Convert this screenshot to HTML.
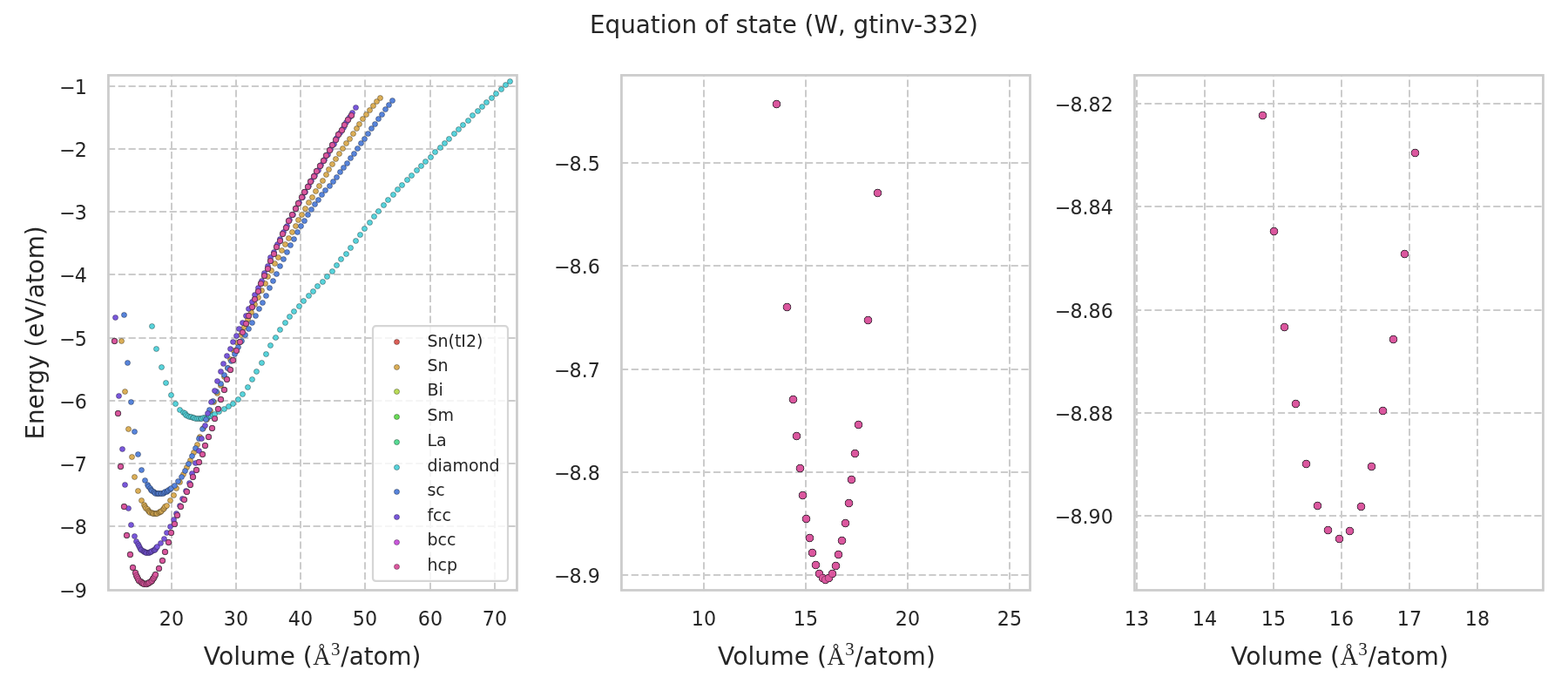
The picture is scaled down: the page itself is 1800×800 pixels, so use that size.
<!DOCTYPE html>
<html lang="en"><head><meta charset="utf-8"><title>Equation of state (W, gtinv-332)</title>
<style>html,body{margin:0;padding:0;background:#fff}svg{display:block}text{font-family:"DejaVu Sans","Liberation Sans",sans-serif;fill:#262626;stroke:none}.tk{font-size:22.22px}.lb{font-size:27.78px}.lg{font-size:19.00px}.m{font-family:"Liberation Serif","DejaVu Serif",serif}.g{stroke:#cccccc;stroke-width:2.00;stroke-dasharray:8.22 3.56;fill:none}.sp{stroke:#cccccc;stroke-width:2.78;fill:none;stroke-linejoin:miter}.m1{stroke:#000;stroke-width:0.33px}.m2{stroke:#000;stroke-width:0.33px}</style></head><body>
<svg width="1800" height="800" viewBox="0 0 1800 800">
<rect width="1800" height="800" fill="#fff"/>
<text class="lb" x="900" y="38" text-anchor="middle" style="font-size:27.78px">Equation of state (W, gtinv-332)</text>
<g id="ax1">
<path class="g" d="M197.0 676.95V86.40M271.0 676.95V86.40M345.0 676.95V86.40M419.0 676.95V86.40M494.0 676.95V86.40M568.0 676.95V86.40"/>
<path class="g" d="M123.95 99.0H593.45M123.95 171.0H593.45M123.95 243.0H593.45M123.95 315.0H593.45M123.95 388.0H593.45M123.95 460.0H593.45M123.95 532.0H593.45M123.95 604.0H593.45"/>
</g>
<g id="ax2">
<path class="g" d="M808.0 676.95V86.40M925.0 676.95V86.40M1042.0 676.95V86.40M1159.0 676.95V86.40"/>
<path class="g" d="M712.95 187.0H1182.50M712.95 305.0H1182.50M712.95 424.0H1182.50M712.95 542.0H1182.50M712.95 660.0H1182.50"/>
</g>
<g id="ax3">
<path class="g" d="M1305.0 676.95V86.40M1383.0 676.95V86.40M1462.0 676.95V86.40M1540.0 676.95V86.40M1618.0 676.95V86.40M1696.0 676.95V86.40"/>
<path class="g" d="M1301.95 119.0H1771.45M1301.95 237.0H1771.45M1301.95 356.0H1771.45M1301.95 474.0H1771.45M1301.95 592.0H1771.45"/>
</g>
<g id="data1" class="m1">
<g fill="#db5f57">
<circle cx="131.5" cy="391.5" r="3.05"/><circle cx="135.5" cy="474.5" r="3.05"/><circle cx="138.5" cy="535.5" r="3.05"/><circle cx="142.5" cy="581.5" r="3.05"/><circle cx="145.5" cy="614.5" r="3.05"/><circle cx="149.5" cy="636.5" r="3.05"/><circle cx="152.5" cy="651.5" r="3.05"/><circle cx="155.5" cy="657.5" r="3.05"/><circle cx="156.5" cy="660.5" r="3.05"/><circle cx="157.5" cy="662.5" r="3.05"/><circle cx="158.5" cy="664.5" r="3.05"/><circle cx="159.5" cy="666.5" r="3.05"/><circle cx="161.5" cy="667.5" r="3.05"/><circle cx="162.5" cy="668.5" r="3.05"/><circle cx="163.5" cy="669.5" r="3.05"/><circle cx="164.5" cy="669.5" r="3.05"/><circle cx="165.5" cy="670.5" r="3.05"/><circle cx="167.5" cy="670.5" r="3.05"/><circle cx="168.5" cy="670.5" r="3.05"/><circle cx="169.5" cy="669.5" r="3.05"/><circle cx="170.5" cy="669.5" r="3.05"/><circle cx="171.5" cy="668.5" r="3.05"/><circle cx="173.5" cy="667.5" r="3.05"/><circle cx="174.5" cy="666.5" r="3.05"/><circle cx="175.5" cy="664.5" r="3.05"/><circle cx="176.5" cy="663.5" r="3.05"/><circle cx="177.5" cy="661.5" r="3.05"/><circle cx="178.5" cy="659.5" r="3.05"/><circle cx="182.5" cy="652.5" r="3.05"/><circle cx="186.5" cy="643.5" r="3.05"/><circle cx="189.5" cy="633.5" r="3.05"/><circle cx="193.5" cy="622.5" r="3.05"/><circle cx="196.5" cy="611.5" r="3.05"/><circle cx="200.5" cy="601.5" r="3.05"/><circle cx="203.5" cy="591.5" r="3.05"/><circle cx="207.5" cy="581.5" r="3.05"/><circle cx="211.5" cy="573.5" r="3.05"/><circle cx="214.5" cy="564.5" r="3.05"/><circle cx="218.5" cy="556.5" r="3.05"/><circle cx="221.5" cy="547.5" r="3.05"/><circle cx="225.5" cy="539.5" r="3.05"/><circle cx="228.5" cy="530.5" r="3.05"/><circle cx="232.5" cy="521.5" r="3.05"/><circle cx="235.5" cy="511.5" r="3.05"/><circle cx="239.5" cy="501.5" r="3.05"/><circle cx="243.5" cy="491.5" r="3.05"/><circle cx="246.5" cy="480.5" r="3.05"/><circle cx="250.5" cy="469.5" r="3.05"/><circle cx="253.5" cy="458.5" r="3.05"/><circle cx="257.5" cy="447.5" r="3.05"/><circle cx="260.5" cy="435.5" r="3.05"/><circle cx="264.5" cy="424.5" r="3.05"/><circle cx="267.5" cy="413.5" r="3.05"/><circle cx="271.5" cy="402.5" r="3.05"/><circle cx="275.5" cy="392.5" r="3.05"/><circle cx="278.5" cy="381.5" r="3.05"/><circle cx="282.5" cy="371.5" r="3.05"/><circle cx="285.5" cy="362.5" r="3.05"/><circle cx="289.5" cy="352.5" r="3.05"/><circle cx="292.5" cy="343.5" r="3.05"/><circle cx="296.5" cy="334.5" r="3.05"/><circle cx="299.5" cy="325.5" r="3.05"/><circle cx="303.5" cy="316.5" r="3.05"/><circle cx="307.5" cy="308.5" r="3.05"/><circle cx="310.5" cy="299.5" r="3.05"/><circle cx="314.5" cy="291.5" r="3.05"/><circle cx="317.5" cy="283.5" r="3.05"/><circle cx="321.5" cy="276.5" r="3.05"/><circle cx="324.5" cy="268.5" r="3.05"/><circle cx="328.5" cy="261.5" r="3.05"/><circle cx="331.5" cy="253.5" r="3.05"/><circle cx="335.5" cy="246.5" r="3.05"/><circle cx="339.5" cy="239.5" r="3.05"/><circle cx="342.5" cy="233.5" r="3.05"/><circle cx="346.5" cy="226.5" r="3.05"/><circle cx="349.5" cy="220.5" r="3.05"/><circle cx="353.5" cy="214.5" r="3.05"/><circle cx="356.5" cy="208.5" r="3.05"/><circle cx="360.5" cy="202.5" r="3.05"/><circle cx="363.5" cy="196.5" r="3.05"/><circle cx="367.5" cy="190.5" r="3.05"/><circle cx="371.5" cy="184.5" r="3.05"/><circle cx="374.5" cy="178.5" r="3.05"/><circle cx="378.5" cy="172.5" r="3.05"/><circle cx="381.5" cy="166.5" r="3.05"/><circle cx="385.5" cy="160.5" r="3.05"/><circle cx="388.5" cy="154.5" r="3.05"/><circle cx="392.5" cy="149.5" r="3.05"/><circle cx="395.5" cy="143.5" r="3.05"/><circle cx="399.5" cy="137.5" r="3.05"/><circle cx="403.5" cy="132.5" r="3.05"/>
</g>
<g fill="#dbae57">
<circle cx="139.5" cy="391.5" r="3.05"/><circle cx="143.5" cy="449.5" r="3.05"/><circle cx="147.5" cy="492.5" r="3.05"/><circle cx="151.5" cy="524.5" r="3.05"/><circle cx="154.5" cy="547.5" r="3.05"/><circle cx="158.5" cy="563.5" r="3.05"/><circle cx="162.5" cy="574.5" r="3.05"/><circle cx="165.5" cy="579.5" r="3.05"/><circle cx="166.5" cy="581.5" r="3.05"/><circle cx="167.5" cy="583.5" r="3.05"/><circle cx="169.5" cy="584.5" r="3.05"/><circle cx="170.5" cy="586.5" r="3.05"/><circle cx="171.5" cy="587.5" r="3.05"/><circle cx="172.5" cy="588.5" r="3.05"/><circle cx="174.5" cy="588.5" r="3.05"/><circle cx="175.5" cy="589.5" r="3.05"/><circle cx="176.5" cy="589.5" r="3.05"/><circle cx="178.5" cy="589.5" r="3.05"/><circle cx="179.5" cy="589.5" r="3.05"/><circle cx="180.5" cy="589.5" r="3.05"/><circle cx="182.5" cy="588.5" r="3.05"/><circle cx="183.5" cy="587.5" r="3.05"/><circle cx="184.5" cy="587.5" r="3.05"/><circle cx="185.5" cy="586.5" r="3.05"/><circle cx="187.5" cy="584.5" r="3.05"/><circle cx="188.5" cy="583.5" r="3.05"/><circle cx="189.5" cy="581.5" r="3.05"/><circle cx="191.5" cy="580.5" r="3.05"/><circle cx="195.5" cy="574.5" r="3.05"/><circle cx="199.5" cy="568.5" r="3.05"/><circle cx="202.5" cy="560.5" r="3.05"/><circle cx="206.5" cy="553.5" r="3.05"/><circle cx="210.5" cy="544.5" r="3.05"/><circle cx="214.5" cy="536.5" r="3.05"/><circle cx="218.5" cy="528.5" r="3.05"/><circle cx="222.5" cy="519.5" r="3.05"/><circle cx="226.5" cy="510.5" r="3.05"/><circle cx="229.5" cy="501.5" r="3.05"/><circle cx="233.5" cy="491.5" r="3.05"/><circle cx="237.5" cy="481.5" r="3.05"/><circle cx="241.5" cy="471.5" r="3.05"/><circle cx="245.5" cy="461.5" r="3.05"/><circle cx="249.5" cy="451.5" r="3.05"/><circle cx="253.5" cy="442.5" r="3.05"/><circle cx="257.5" cy="432.5" r="3.05"/><circle cx="261.5" cy="422.5" r="3.05"/><circle cx="264.5" cy="412.5" r="3.05"/><circle cx="268.5" cy="402.5" r="3.05"/><circle cx="272.5" cy="393.5" r="3.05"/><circle cx="276.5" cy="384.5" r="3.05"/><circle cx="280.5" cy="375.5" r="3.05"/><circle cx="284.5" cy="366.5" r="3.05"/><circle cx="288.5" cy="358.5" r="3.05"/><circle cx="292.5" cy="349.5" r="3.05"/><circle cx="296.5" cy="341.5" r="3.05"/><circle cx="300.5" cy="333.5" r="3.05"/><circle cx="304.5" cy="325.5" r="3.05"/><circle cx="307.5" cy="317.5" r="3.05"/><circle cx="311.5" cy="310.5" r="3.05"/><circle cx="315.5" cy="302.5" r="3.05"/><circle cx="319.5" cy="295.5" r="3.05"/><circle cx="323.5" cy="287.5" r="3.05"/><circle cx="327.5" cy="280.5" r="3.05"/><circle cx="331.5" cy="273.5" r="3.05"/><circle cx="335.5" cy="266.5" r="3.05"/><circle cx="339.5" cy="259.5" r="3.05"/><circle cx="342.5" cy="252.5" r="3.05"/><circle cx="346.5" cy="246.5" r="3.05"/><circle cx="350.5" cy="239.5" r="3.05"/><circle cx="354.5" cy="232.5" r="3.05"/><circle cx="358.5" cy="226.5" r="3.05"/><circle cx="362.5" cy="219.5" r="3.05"/><circle cx="366.5" cy="213.5" r="3.05"/><circle cx="370.5" cy="207.5" r="3.05"/><circle cx="374.5" cy="200.5" r="3.05"/><circle cx="377.5" cy="194.5" r="3.05"/><circle cx="381.5" cy="188.5" r="3.05"/><circle cx="385.5" cy="182.5" r="3.05"/><circle cx="389.5" cy="176.5" r="3.05"/><circle cx="393.5" cy="170.5" r="3.05"/><circle cx="397.5" cy="164.5" r="3.05"/><circle cx="401.5" cy="159.5" r="3.05"/><circle cx="405.5" cy="153.5" r="3.05"/><circle cx="409.5" cy="147.5" r="3.05"/><circle cx="412.5" cy="142.5" r="3.05"/><circle cx="416.5" cy="136.5" r="3.05"/><circle cx="420.5" cy="131.5" r="3.05"/><circle cx="424.5" cy="126.5" r="3.05"/><circle cx="428.5" cy="121.5" r="3.05"/><circle cx="432.5" cy="116.5" r="3.05"/><circle cx="436.5" cy="112.5" r="3.05"/>
</g>
<g fill="#b9db57">
<circle cx="131.5" cy="391.5" r="3.05"/><circle cx="135.5" cy="474.5" r="3.05"/><circle cx="138.5" cy="535.5" r="3.05"/><circle cx="142.5" cy="581.5" r="3.05"/><circle cx="145.5" cy="614.5" r="3.05"/><circle cx="149.5" cy="636.5" r="3.05"/><circle cx="152.5" cy="651.5" r="3.05"/><circle cx="155.5" cy="657.5" r="3.05"/><circle cx="156.5" cy="660.5" r="3.05"/><circle cx="157.5" cy="662.5" r="3.05"/><circle cx="158.5" cy="664.5" r="3.05"/><circle cx="159.5" cy="666.5" r="3.05"/><circle cx="161.5" cy="667.5" r="3.05"/><circle cx="162.5" cy="668.5" r="3.05"/><circle cx="163.5" cy="669.5" r="3.05"/><circle cx="164.5" cy="669.5" r="3.05"/><circle cx="165.5" cy="670.5" r="3.05"/><circle cx="167.5" cy="670.5" r="3.05"/><circle cx="168.5" cy="670.5" r="3.05"/><circle cx="169.5" cy="669.5" r="3.05"/><circle cx="170.5" cy="669.5" r="3.05"/><circle cx="171.5" cy="668.5" r="3.05"/><circle cx="173.5" cy="667.5" r="3.05"/><circle cx="174.5" cy="666.5" r="3.05"/><circle cx="175.5" cy="664.5" r="3.05"/><circle cx="176.5" cy="663.5" r="3.05"/><circle cx="177.5" cy="661.5" r="3.05"/><circle cx="178.5" cy="659.5" r="3.05"/><circle cx="182.5" cy="652.5" r="3.05"/><circle cx="186.5" cy="643.5" r="3.05"/><circle cx="189.5" cy="633.5" r="3.05"/><circle cx="193.5" cy="622.5" r="3.05"/><circle cx="196.5" cy="611.5" r="3.05"/><circle cx="200.5" cy="601.5" r="3.05"/><circle cx="203.5" cy="591.5" r="3.05"/><circle cx="207.5" cy="581.5" r="3.05"/><circle cx="211.5" cy="573.5" r="3.05"/><circle cx="214.5" cy="564.5" r="3.05"/><circle cx="218.5" cy="556.5" r="3.05"/><circle cx="221.5" cy="547.5" r="3.05"/><circle cx="225.5" cy="539.5" r="3.05"/><circle cx="228.5" cy="530.5" r="3.05"/><circle cx="232.5" cy="521.5" r="3.05"/><circle cx="235.5" cy="511.5" r="3.05"/><circle cx="239.5" cy="501.5" r="3.05"/><circle cx="243.5" cy="491.5" r="3.05"/><circle cx="246.5" cy="480.5" r="3.05"/><circle cx="250.5" cy="469.5" r="3.05"/><circle cx="253.5" cy="458.5" r="3.05"/><circle cx="257.5" cy="447.5" r="3.05"/><circle cx="260.5" cy="435.5" r="3.05"/><circle cx="264.5" cy="424.5" r="3.05"/><circle cx="267.5" cy="413.5" r="3.05"/><circle cx="271.5" cy="402.5" r="3.05"/><circle cx="275.5" cy="392.5" r="3.05"/><circle cx="278.5" cy="381.5" r="3.05"/><circle cx="282.5" cy="371.5" r="3.05"/><circle cx="285.5" cy="362.5" r="3.05"/><circle cx="289.5" cy="352.5" r="3.05"/><circle cx="292.5" cy="343.5" r="3.05"/><circle cx="296.5" cy="334.5" r="3.05"/><circle cx="299.5" cy="325.5" r="3.05"/><circle cx="303.5" cy="316.5" r="3.05"/><circle cx="307.5" cy="308.5" r="3.05"/><circle cx="310.5" cy="299.5" r="3.05"/><circle cx="314.5" cy="291.5" r="3.05"/><circle cx="317.5" cy="283.5" r="3.05"/><circle cx="321.5" cy="276.5" r="3.05"/><circle cx="324.5" cy="268.5" r="3.05"/><circle cx="328.5" cy="261.5" r="3.05"/><circle cx="331.5" cy="253.5" r="3.05"/><circle cx="335.5" cy="246.5" r="3.05"/><circle cx="339.5" cy="239.5" r="3.05"/><circle cx="342.5" cy="233.5" r="3.05"/><circle cx="346.5" cy="226.5" r="3.05"/><circle cx="349.5" cy="220.5" r="3.05"/><circle cx="353.5" cy="214.5" r="3.05"/><circle cx="356.5" cy="208.5" r="3.05"/><circle cx="360.5" cy="202.5" r="3.05"/><circle cx="363.5" cy="196.5" r="3.05"/><circle cx="367.5" cy="190.5" r="3.05"/><circle cx="371.5" cy="184.5" r="3.05"/><circle cx="374.5" cy="178.5" r="3.05"/><circle cx="378.5" cy="172.5" r="3.05"/><circle cx="381.5" cy="166.5" r="3.05"/><circle cx="385.5" cy="160.5" r="3.05"/><circle cx="388.5" cy="154.5" r="3.05"/><circle cx="392.5" cy="149.5" r="3.05"/><circle cx="395.5" cy="143.5" r="3.05"/><circle cx="399.5" cy="137.5" r="3.05"/><circle cx="403.5" cy="132.5" r="3.05"/>
</g>
<g fill="#69db57">
<circle cx="131.5" cy="391.5" r="3.05"/><circle cx="135.5" cy="474.5" r="3.05"/><circle cx="138.5" cy="535.5" r="3.05"/><circle cx="142.5" cy="581.5" r="3.05"/><circle cx="145.5" cy="614.5" r="3.05"/><circle cx="149.5" cy="636.5" r="3.05"/><circle cx="152.5" cy="651.5" r="3.05"/><circle cx="155.5" cy="657.5" r="3.05"/><circle cx="156.5" cy="660.5" r="3.05"/><circle cx="157.5" cy="662.5" r="3.05"/><circle cx="158.5" cy="664.5" r="3.05"/><circle cx="159.5" cy="666.5" r="3.05"/><circle cx="161.5" cy="667.5" r="3.05"/><circle cx="162.5" cy="668.5" r="3.05"/><circle cx="163.5" cy="669.5" r="3.05"/><circle cx="164.5" cy="669.5" r="3.05"/><circle cx="165.5" cy="670.5" r="3.05"/><circle cx="167.5" cy="670.5" r="3.05"/><circle cx="168.5" cy="670.5" r="3.05"/><circle cx="169.5" cy="669.5" r="3.05"/><circle cx="170.5" cy="669.5" r="3.05"/><circle cx="171.5" cy="668.5" r="3.05"/><circle cx="173.5" cy="667.5" r="3.05"/><circle cx="174.5" cy="666.5" r="3.05"/><circle cx="175.5" cy="664.5" r="3.05"/><circle cx="176.5" cy="663.5" r="3.05"/><circle cx="177.5" cy="661.5" r="3.05"/><circle cx="178.5" cy="659.5" r="3.05"/><circle cx="182.5" cy="652.5" r="3.05"/><circle cx="186.5" cy="643.5" r="3.05"/><circle cx="189.5" cy="633.5" r="3.05"/><circle cx="193.5" cy="622.5" r="3.05"/><circle cx="196.5" cy="611.5" r="3.05"/><circle cx="200.5" cy="601.5" r="3.05"/><circle cx="203.5" cy="591.5" r="3.05"/><circle cx="207.5" cy="581.5" r="3.05"/><circle cx="211.5" cy="573.5" r="3.05"/><circle cx="214.5" cy="564.5" r="3.05"/><circle cx="218.5" cy="556.5" r="3.05"/><circle cx="221.5" cy="547.5" r="3.05"/><circle cx="225.5" cy="539.5" r="3.05"/><circle cx="228.5" cy="530.5" r="3.05"/><circle cx="232.5" cy="521.5" r="3.05"/><circle cx="235.5" cy="511.5" r="3.05"/><circle cx="239.5" cy="501.5" r="3.05"/><circle cx="243.5" cy="491.5" r="3.05"/><circle cx="246.5" cy="480.5" r="3.05"/><circle cx="250.5" cy="469.5" r="3.05"/><circle cx="253.5" cy="458.5" r="3.05"/><circle cx="257.5" cy="447.5" r="3.05"/><circle cx="260.5" cy="435.5" r="3.05"/><circle cx="264.5" cy="424.5" r="3.05"/><circle cx="267.5" cy="413.5" r="3.05"/><circle cx="271.5" cy="402.5" r="3.05"/><circle cx="275.5" cy="392.5" r="3.05"/><circle cx="278.5" cy="381.5" r="3.05"/><circle cx="282.5" cy="371.5" r="3.05"/><circle cx="285.5" cy="362.5" r="3.05"/><circle cx="289.5" cy="352.5" r="3.05"/><circle cx="292.5" cy="343.5" r="3.05"/><circle cx="296.5" cy="334.5" r="3.05"/><circle cx="299.5" cy="325.5" r="3.05"/><circle cx="303.5" cy="316.5" r="3.05"/><circle cx="307.5" cy="308.5" r="3.05"/><circle cx="310.5" cy="299.5" r="3.05"/><circle cx="314.5" cy="291.5" r="3.05"/><circle cx="317.5" cy="283.5" r="3.05"/><circle cx="321.5" cy="276.5" r="3.05"/><circle cx="324.5" cy="268.5" r="3.05"/><circle cx="328.5" cy="261.5" r="3.05"/><circle cx="331.5" cy="253.5" r="3.05"/><circle cx="335.5" cy="246.5" r="3.05"/><circle cx="339.5" cy="239.5" r="3.05"/><circle cx="342.5" cy="233.5" r="3.05"/><circle cx="346.5" cy="226.5" r="3.05"/><circle cx="349.5" cy="220.5" r="3.05"/><circle cx="353.5" cy="214.5" r="3.05"/><circle cx="356.5" cy="208.5" r="3.05"/><circle cx="360.5" cy="202.5" r="3.05"/><circle cx="363.5" cy="196.5" r="3.05"/><circle cx="367.5" cy="190.5" r="3.05"/><circle cx="371.5" cy="184.5" r="3.05"/><circle cx="374.5" cy="178.5" r="3.05"/><circle cx="378.5" cy="172.5" r="3.05"/><circle cx="381.5" cy="166.5" r="3.05"/><circle cx="385.5" cy="160.5" r="3.05"/><circle cx="388.5" cy="154.5" r="3.05"/><circle cx="392.5" cy="149.5" r="3.05"/><circle cx="395.5" cy="143.5" r="3.05"/><circle cx="399.5" cy="137.5" r="3.05"/><circle cx="403.5" cy="132.5" r="3.05"/>
</g>
<g fill="#57db94">
<circle cx="131.5" cy="391.5" r="3.05"/><circle cx="135.5" cy="474.5" r="3.05"/><circle cx="138.5" cy="535.5" r="3.05"/><circle cx="142.5" cy="581.5" r="3.05"/><circle cx="145.5" cy="614.5" r="3.05"/><circle cx="149.5" cy="636.5" r="3.05"/><circle cx="152.5" cy="651.5" r="3.05"/><circle cx="155.5" cy="657.5" r="3.05"/><circle cx="156.5" cy="660.5" r="3.05"/><circle cx="157.5" cy="662.5" r="3.05"/><circle cx="158.5" cy="664.5" r="3.05"/><circle cx="159.5" cy="666.5" r="3.05"/><circle cx="161.5" cy="667.5" r="3.05"/><circle cx="162.5" cy="668.5" r="3.05"/><circle cx="163.5" cy="669.5" r="3.05"/><circle cx="164.5" cy="669.5" r="3.05"/><circle cx="165.5" cy="670.5" r="3.05"/><circle cx="167.5" cy="670.5" r="3.05"/><circle cx="168.5" cy="670.5" r="3.05"/><circle cx="169.5" cy="669.5" r="3.05"/><circle cx="170.5" cy="669.5" r="3.05"/><circle cx="171.5" cy="668.5" r="3.05"/><circle cx="173.5" cy="667.5" r="3.05"/><circle cx="174.5" cy="666.5" r="3.05"/><circle cx="175.5" cy="664.5" r="3.05"/><circle cx="176.5" cy="663.5" r="3.05"/><circle cx="177.5" cy="661.5" r="3.05"/><circle cx="178.5" cy="659.5" r="3.05"/><circle cx="182.5" cy="652.5" r="3.05"/><circle cx="186.5" cy="643.5" r="3.05"/><circle cx="189.5" cy="633.5" r="3.05"/><circle cx="193.5" cy="622.5" r="3.05"/><circle cx="196.5" cy="611.5" r="3.05"/><circle cx="200.5" cy="601.5" r="3.05"/><circle cx="203.5" cy="591.5" r="3.05"/><circle cx="207.5" cy="581.5" r="3.05"/><circle cx="211.5" cy="573.5" r="3.05"/><circle cx="214.5" cy="564.5" r="3.05"/><circle cx="218.5" cy="556.5" r="3.05"/><circle cx="221.5" cy="547.5" r="3.05"/><circle cx="225.5" cy="539.5" r="3.05"/><circle cx="228.5" cy="530.5" r="3.05"/><circle cx="232.5" cy="521.5" r="3.05"/><circle cx="235.5" cy="511.5" r="3.05"/><circle cx="239.5" cy="501.5" r="3.05"/><circle cx="243.5" cy="491.5" r="3.05"/><circle cx="246.5" cy="480.5" r="3.05"/><circle cx="250.5" cy="469.5" r="3.05"/><circle cx="253.5" cy="458.5" r="3.05"/><circle cx="257.5" cy="447.5" r="3.05"/><circle cx="260.5" cy="435.5" r="3.05"/><circle cx="264.5" cy="424.5" r="3.05"/><circle cx="267.5" cy="413.5" r="3.05"/><circle cx="271.5" cy="402.5" r="3.05"/><circle cx="275.5" cy="392.5" r="3.05"/><circle cx="278.5" cy="381.5" r="3.05"/><circle cx="282.5" cy="371.5" r="3.05"/><circle cx="285.5" cy="362.5" r="3.05"/><circle cx="289.5" cy="352.5" r="3.05"/><circle cx="292.5" cy="343.5" r="3.05"/><circle cx="296.5" cy="334.5" r="3.05"/><circle cx="299.5" cy="325.5" r="3.05"/><circle cx="303.5" cy="316.5" r="3.05"/><circle cx="307.5" cy="308.5" r="3.05"/><circle cx="310.5" cy="299.5" r="3.05"/><circle cx="314.5" cy="291.5" r="3.05"/><circle cx="317.5" cy="283.5" r="3.05"/><circle cx="321.5" cy="276.5" r="3.05"/><circle cx="324.5" cy="268.5" r="3.05"/><circle cx="328.5" cy="261.5" r="3.05"/><circle cx="331.5" cy="253.5" r="3.05"/><circle cx="335.5" cy="246.5" r="3.05"/><circle cx="339.5" cy="239.5" r="3.05"/><circle cx="342.5" cy="233.5" r="3.05"/><circle cx="346.5" cy="226.5" r="3.05"/><circle cx="349.5" cy="220.5" r="3.05"/><circle cx="353.5" cy="214.5" r="3.05"/><circle cx="356.5" cy="208.5" r="3.05"/><circle cx="360.5" cy="202.5" r="3.05"/><circle cx="363.5" cy="196.5" r="3.05"/><circle cx="367.5" cy="190.5" r="3.05"/><circle cx="371.5" cy="184.5" r="3.05"/><circle cx="374.5" cy="178.5" r="3.05"/><circle cx="378.5" cy="172.5" r="3.05"/><circle cx="381.5" cy="166.5" r="3.05"/><circle cx="385.5" cy="160.5" r="3.05"/><circle cx="388.5" cy="154.5" r="3.05"/><circle cx="392.5" cy="149.5" r="3.05"/><circle cx="395.5" cy="143.5" r="3.05"/><circle cx="399.5" cy="137.5" r="3.05"/><circle cx="403.5" cy="132.5" r="3.05"/>
</g>
<g fill="#57d3db">
<circle cx="174.5" cy="374.5" r="3.05"/><circle cx="179.5" cy="400.5" r="3.05"/><circle cx="185.5" cy="421.5" r="3.05"/><circle cx="190.5" cy="439.5" r="3.05"/><circle cx="196.5" cy="453.5" r="3.05"/><circle cx="201.5" cy="463.5" r="3.05"/><circle cx="206.5" cy="470.5" r="3.05"/><circle cx="210.5" cy="473.5" r="3.05"/><circle cx="212.5" cy="474.5" r="3.05"/><circle cx="213.5" cy="476.5" r="3.05"/><circle cx="215.5" cy="477.5" r="3.05"/><circle cx="217.5" cy="478.5" r="3.05"/><circle cx="219.5" cy="478.5" r="3.05"/><circle cx="221.5" cy="479.5" r="3.05"/><circle cx="222.5" cy="479.5" r="3.05"/><circle cx="224.5" cy="480.5" r="3.05"/><circle cx="226.5" cy="480.5" r="3.05"/><circle cx="228.5" cy="480.5" r="3.05"/><circle cx="230.5" cy="480.5" r="3.05"/><circle cx="231.5" cy="480.5" r="3.05"/><circle cx="233.5" cy="479.5" r="3.05"/><circle cx="235.5" cy="479.5" r="3.05"/><circle cx="237.5" cy="479.5" r="3.05"/><circle cx="239.5" cy="478.5" r="3.05"/><circle cx="240.5" cy="477.5" r="3.05"/><circle cx="242.5" cy="477.5" r="3.05"/><circle cx="244.5" cy="476.5" r="3.05"/><circle cx="246.5" cy="475.5" r="3.05"/><circle cx="251.5" cy="472.5" r="3.05"/><circle cx="257.5" cy="469.5" r="3.05"/><circle cx="262.5" cy="466.5" r="3.05"/><circle cx="267.5" cy="463.5" r="3.05"/><circle cx="273.5" cy="458.5" r="3.05"/><circle cx="278.5" cy="452.5" r="3.05"/><circle cx="284.5" cy="444.5" r="3.05"/><circle cx="289.5" cy="435.5" r="3.05"/><circle cx="294.5" cy="426.5" r="3.05"/><circle cx="300.5" cy="416.5" r="3.05"/><circle cx="305.5" cy="406.5" r="3.05"/><circle cx="310.5" cy="396.5" r="3.05"/><circle cx="316.5" cy="387.5" r="3.05"/><circle cx="321.5" cy="378.5" r="3.05"/><circle cx="327.5" cy="370.5" r="3.05"/><circle cx="332.5" cy="363.5" r="3.05"/><circle cx="337.5" cy="357.5" r="3.05"/><circle cx="343.5" cy="351.5" r="3.05"/><circle cx="348.5" cy="345.5" r="3.05"/><circle cx="354.5" cy="339.5" r="3.05"/><circle cx="359.5" cy="334.5" r="3.05"/><circle cx="364.5" cy="328.5" r="3.05"/><circle cx="370.5" cy="323.5" r="3.05"/><circle cx="375.5" cy="317.5" r="3.05"/><circle cx="381.5" cy="311.5" r="3.05"/><circle cx="386.5" cy="304.5" r="3.05"/><circle cx="391.5" cy="297.5" r="3.05"/><circle cx="397.5" cy="291.5" r="3.05"/><circle cx="402.5" cy="284.5" r="3.05"/><circle cx="408.5" cy="276.5" r="3.05"/><circle cx="413.5" cy="269.5" r="3.05"/><circle cx="418.5" cy="262.5" r="3.05"/><circle cx="424.5" cy="255.5" r="3.05"/><circle cx="429.5" cy="248.5" r="3.05"/><circle cx="434.5" cy="242.5" r="3.05"/><circle cx="440.5" cy="235.5" r="3.05"/><circle cx="445.5" cy="229.5" r="3.05"/><circle cx="451.5" cy="223.5" r="3.05"/><circle cx="456.5" cy="217.5" r="3.05"/><circle cx="461.5" cy="212.5" r="3.05"/><circle cx="467.5" cy="206.5" r="3.05"/><circle cx="472.5" cy="201.5" r="3.05"/><circle cx="478.5" cy="195.5" r="3.05"/><circle cx="483.5" cy="190.5" r="3.05"/><circle cx="488.5" cy="185.5" r="3.05"/><circle cx="494.5" cy="180.5" r="3.05"/><circle cx="499.5" cy="174.5" r="3.05"/><circle cx="505.5" cy="169.5" r="3.05"/><circle cx="510.5" cy="164.5" r="3.05"/><circle cx="515.5" cy="159.5" r="3.05"/><circle cx="521.5" cy="153.5" r="3.05"/><circle cx="526.5" cy="148.5" r="3.05"/><circle cx="531.5" cy="143.5" r="3.05"/><circle cx="537.5" cy="138.5" r="3.05"/><circle cx="542.5" cy="132.5" r="3.05"/><circle cx="548.5" cy="127.5" r="3.05"/><circle cx="553.5" cy="122.5" r="3.05"/><circle cx="558.5" cy="117.5" r="3.05"/><circle cx="564.5" cy="112.5" r="3.05"/><circle cx="569.5" cy="107.5" r="3.05"/><circle cx="575.5" cy="102.5" r="3.05"/><circle cx="580.5" cy="97.5" r="3.05"/><circle cx="585.5" cy="93.5" r="3.05"/>
</g>
<g fill="#5784db">
<circle cx="142.5" cy="361.5" r="3.05"/><circle cx="146.5" cy="416.5" r="3.05"/><circle cx="150.5" cy="461.5" r="3.05"/><circle cx="154.5" cy="495.5" r="3.05"/><circle cx="158.5" cy="521.5" r="3.05"/><circle cx="162.5" cy="539.5" r="3.05"/><circle cx="166.5" cy="551.5" r="3.05"/><circle cx="169.5" cy="556.5" r="3.05"/><circle cx="170.5" cy="558.5" r="3.05"/><circle cx="172.5" cy="560.5" r="3.05"/><circle cx="173.5" cy="562.5" r="3.05"/><circle cx="174.5" cy="563.5" r="3.05"/><circle cx="176.5" cy="564.5" r="3.05"/><circle cx="177.5" cy="565.5" r="3.05"/><circle cx="178.5" cy="566.5" r="3.05"/><circle cx="180.5" cy="566.5" r="3.05"/><circle cx="181.5" cy="566.5" r="3.05"/><circle cx="182.5" cy="566.5" r="3.05"/><circle cx="184.5" cy="566.5" r="3.05"/><circle cx="185.5" cy="566.5" r="3.05"/><circle cx="187.5" cy="566.5" r="3.05"/><circle cx="188.5" cy="565.5" r="3.05"/><circle cx="189.5" cy="564.5" r="3.05"/><circle cx="191.5" cy="564.5" r="3.05"/><circle cx="192.5" cy="563.5" r="3.05"/><circle cx="193.5" cy="562.5" r="3.05"/><circle cx="195.5" cy="561.5" r="3.05"/><circle cx="196.5" cy="560.5" r="3.05"/><circle cx="200.5" cy="557.5" r="3.05"/><circle cx="204.5" cy="552.5" r="3.05"/><circle cx="208.5" cy="547.5" r="3.05"/><circle cx="212.5" cy="540.5" r="3.05"/><circle cx="216.5" cy="532.5" r="3.05"/><circle cx="220.5" cy="523.5" r="3.05"/><circle cx="224.5" cy="514.5" r="3.05"/><circle cx="228.5" cy="503.5" r="3.05"/><circle cx="232.5" cy="492.5" r="3.05"/><circle cx="236.5" cy="481.5" r="3.05"/><circle cx="240.5" cy="470.5" r="3.05"/><circle cx="244.5" cy="460.5" r="3.05"/><circle cx="248.5" cy="449.5" r="3.05"/><circle cx="253.5" cy="440.5" r="3.05"/><circle cx="257.5" cy="430.5" r="3.05"/><circle cx="261.5" cy="422.5" r="3.05"/><circle cx="265.5" cy="414.5" r="3.05"/><circle cx="269.5" cy="406.5" r="3.05"/><circle cx="273.5" cy="398.5" r="3.05"/><circle cx="277.5" cy="391.5" r="3.05"/><circle cx="281.5" cy="384.5" r="3.05"/><circle cx="285.5" cy="377.5" r="3.05"/><circle cx="289.5" cy="370.5" r="3.05"/><circle cx="293.5" cy="362.5" r="3.05"/><circle cx="297.5" cy="354.5" r="3.05"/><circle cx="301.5" cy="347.5" r="3.05"/><circle cx="305.5" cy="339.5" r="3.05"/><circle cx="309.5" cy="330.5" r="3.05"/><circle cx="313.5" cy="322.5" r="3.05"/><circle cx="317.5" cy="314.5" r="3.05"/><circle cx="321.5" cy="305.5" r="3.05"/><circle cx="325.5" cy="297.5" r="3.05"/><circle cx="329.5" cy="289.5" r="3.05"/><circle cx="333.5" cy="281.5" r="3.05"/><circle cx="337.5" cy="274.5" r="3.05"/><circle cx="341.5" cy="266.5" r="3.05"/><circle cx="345.5" cy="259.5" r="3.05"/><circle cx="349.5" cy="253.5" r="3.05"/><circle cx="353.5" cy="246.5" r="3.05"/><circle cx="357.5" cy="240.5" r="3.05"/><circle cx="361.5" cy="234.5" r="3.05"/><circle cx="365.5" cy="229.5" r="3.05"/><circle cx="369.5" cy="223.5" r="3.05"/><circle cx="373.5" cy="218.5" r="3.05"/><circle cx="378.5" cy="213.5" r="3.05"/><circle cx="382.5" cy="208.5" r="3.05"/><circle cx="386.5" cy="203.5" r="3.05"/><circle cx="390.5" cy="197.5" r="3.05"/><circle cx="394.5" cy="192.5" r="3.05"/><circle cx="398.5" cy="187.5" r="3.05"/><circle cx="402.5" cy="181.5" r="3.05"/><circle cx="406.5" cy="176.5" r="3.05"/><circle cx="410.5" cy="170.5" r="3.05"/><circle cx="414.5" cy="164.5" r="3.05"/><circle cx="418.5" cy="159.5" r="3.05"/><circle cx="422.5" cy="153.5" r="3.05"/><circle cx="426.5" cy="147.5" r="3.05"/><circle cx="430.5" cy="142.5" r="3.05"/><circle cx="434.5" cy="136.5" r="3.05"/><circle cx="438.5" cy="131.5" r="3.05"/><circle cx="442.5" cy="125.5" r="3.05"/><circle cx="446.5" cy="120.5" r="3.05"/><circle cx="450.5" cy="115.5" r="3.05"/>
</g>
<g fill="#7957db">
<circle cx="132.5" cy="364.5" r="3.05"/><circle cx="136.5" cy="454.5" r="3.05"/><circle cx="140.5" cy="515.5" r="3.05"/><circle cx="143.5" cy="556.5" r="3.05"/><circle cx="147.5" cy="583.5" r="3.05"/><circle cx="150.5" cy="602.5" r="3.05"/><circle cx="154.5" cy="615.5" r="3.05"/><circle cx="156.5" cy="621.5" r="3.05"/><circle cx="158.5" cy="624.5" r="3.05"/><circle cx="159.5" cy="626.5" r="3.05"/><circle cx="160.5" cy="628.5" r="3.05"/><circle cx="161.5" cy="630.5" r="3.05"/><circle cx="162.5" cy="631.5" r="3.05"/><circle cx="164.5" cy="632.5" r="3.05"/><circle cx="165.5" cy="633.5" r="3.05"/><circle cx="166.5" cy="633.5" r="3.05"/><circle cx="167.5" cy="634.5" r="3.05"/><circle cx="168.5" cy="634.5" r="3.05"/><circle cx="170.5" cy="634.5" r="3.05"/><circle cx="171.5" cy="634.5" r="3.05"/><circle cx="172.5" cy="633.5" r="3.05"/><circle cx="173.5" cy="633.5" r="3.05"/><circle cx="174.5" cy="632.5" r="3.05"/><circle cx="176.5" cy="631.5" r="3.05"/><circle cx="177.5" cy="631.5" r="3.05"/><circle cx="178.5" cy="630.5" r="3.05"/><circle cx="179.5" cy="628.5" r="3.05"/><circle cx="180.5" cy="627.5" r="3.05"/><circle cx="184.5" cy="623.5" r="3.05"/><circle cx="188.5" cy="618.5" r="3.05"/><circle cx="191.5" cy="611.5" r="3.05"/><circle cx="195.5" cy="604.5" r="3.05"/><circle cx="199.5" cy="596.5" r="3.05"/><circle cx="202.5" cy="589.5" r="3.05"/><circle cx="206.5" cy="580.5" r="3.05"/><circle cx="209.5" cy="572.5" r="3.05"/><circle cx="213.5" cy="563.5" r="3.05"/><circle cx="217.5" cy="554.5" r="3.05"/><circle cx="220.5" cy="543.5" r="3.05"/><circle cx="224.5" cy="531.5" r="3.05"/><circle cx="228.5" cy="517.5" r="3.05"/><circle cx="231.5" cy="503.5" r="3.05"/><circle cx="235.5" cy="488.5" r="3.05"/><circle cx="238.5" cy="474.5" r="3.05"/><circle cx="242.5" cy="461.5" r="3.05"/><circle cx="246.5" cy="448.5" r="3.05"/><circle cx="249.5" cy="437.5" r="3.05"/><circle cx="253.5" cy="426.5" r="3.05"/><circle cx="256.5" cy="417.5" r="3.05"/><circle cx="260.5" cy="408.5" r="3.05"/><circle cx="264.5" cy="400.5" r="3.05"/><circle cx="267.5" cy="392.5" r="3.05"/><circle cx="271.5" cy="385.5" r="3.05"/><circle cx="274.5" cy="377.5" r="3.05"/><circle cx="278.5" cy="370.5" r="3.05"/><circle cx="282.5" cy="362.5" r="3.05"/><circle cx="285.5" cy="354.5" r="3.05"/><circle cx="289.5" cy="346.5" r="3.05"/><circle cx="292.5" cy="338.5" r="3.05"/><circle cx="296.5" cy="330.5" r="3.05"/><circle cx="300.5" cy="322.5" r="3.05"/><circle cx="303.5" cy="313.5" r="3.05"/><circle cx="307.5" cy="305.5" r="3.05"/><circle cx="310.5" cy="295.5" r="3.05"/><circle cx="314.5" cy="289.5" r="3.05"/><circle cx="318.5" cy="280.5" r="3.05"/><circle cx="321.5" cy="274.5" r="3.05"/><circle cx="325.5" cy="266.5" r="3.05"/><circle cx="329.5" cy="259.5" r="3.05"/><circle cx="332.5" cy="252.5" r="3.05"/><circle cx="336.5" cy="246.5" r="3.05"/><circle cx="339.5" cy="239.5" r="3.05"/><circle cx="343.5" cy="232.5" r="3.05"/><circle cx="347.5" cy="226.5" r="3.05"/><circle cx="350.5" cy="220.5" r="3.05"/><circle cx="354.5" cy="213.5" r="3.05"/><circle cx="357.5" cy="207.5" r="3.05"/><circle cx="361.5" cy="201.5" r="3.05"/><circle cx="365.5" cy="195.5" r="3.05"/><circle cx="368.5" cy="189.5" r="3.05"/><circle cx="372.5" cy="183.5" r="3.05"/><circle cx="376.5" cy="177.5" r="3.05"/><circle cx="379.5" cy="171.5" r="3.05"/><circle cx="383.5" cy="165.5" r="3.05"/><circle cx="386.5" cy="158.5" r="3.05"/><circle cx="390.5" cy="152.5" r="3.05"/><circle cx="394.5" cy="146.5" r="3.05"/><circle cx="397.5" cy="140.5" r="3.05"/><circle cx="401.5" cy="134.5" r="3.05"/><circle cx="404.5" cy="129.5" r="3.05"/><circle cx="408.5" cy="123.5" r="3.05"/>
</g>
<g fill="#c957db">
<circle cx="131.5" cy="391.5" r="3.05"/><circle cx="135.5" cy="474.5" r="3.05"/><circle cx="138.5" cy="535.5" r="3.05"/><circle cx="142.5" cy="581.5" r="3.05"/><circle cx="145.5" cy="614.5" r="3.05"/><circle cx="149.5" cy="636.5" r="3.05"/><circle cx="152.5" cy="651.5" r="3.05"/><circle cx="155.5" cy="657.5" r="3.05"/><circle cx="156.5" cy="660.5" r="3.05"/><circle cx="157.5" cy="662.5" r="3.05"/><circle cx="158.5" cy="664.5" r="3.05"/><circle cx="159.5" cy="666.5" r="3.05"/><circle cx="161.5" cy="667.5" r="3.05"/><circle cx="162.5" cy="668.5" r="3.05"/><circle cx="163.5" cy="669.5" r="3.05"/><circle cx="164.5" cy="669.5" r="3.05"/><circle cx="165.5" cy="670.5" r="3.05"/><circle cx="167.5" cy="670.5" r="3.05"/><circle cx="168.5" cy="670.5" r="3.05"/><circle cx="169.5" cy="669.5" r="3.05"/><circle cx="170.5" cy="669.5" r="3.05"/><circle cx="171.5" cy="668.5" r="3.05"/><circle cx="173.5" cy="667.5" r="3.05"/><circle cx="174.5" cy="666.5" r="3.05"/><circle cx="175.5" cy="664.5" r="3.05"/><circle cx="176.5" cy="663.5" r="3.05"/><circle cx="177.5" cy="661.5" r="3.05"/><circle cx="178.5" cy="659.5" r="3.05"/><circle cx="182.5" cy="652.5" r="3.05"/><circle cx="186.5" cy="643.5" r="3.05"/><circle cx="189.5" cy="633.5" r="3.05"/><circle cx="193.5" cy="622.5" r="3.05"/><circle cx="196.5" cy="611.5" r="3.05"/><circle cx="200.5" cy="601.5" r="3.05"/><circle cx="203.5" cy="591.5" r="3.05"/><circle cx="207.5" cy="581.5" r="3.05"/><circle cx="211.5" cy="573.5" r="3.05"/><circle cx="214.5" cy="564.5" r="3.05"/><circle cx="218.5" cy="556.5" r="3.05"/><circle cx="221.5" cy="547.5" r="3.05"/><circle cx="225.5" cy="539.5" r="3.05"/><circle cx="228.5" cy="530.5" r="3.05"/><circle cx="232.5" cy="521.5" r="3.05"/><circle cx="235.5" cy="511.5" r="3.05"/><circle cx="239.5" cy="501.5" r="3.05"/><circle cx="243.5" cy="491.5" r="3.05"/><circle cx="246.5" cy="480.5" r="3.05"/><circle cx="250.5" cy="469.5" r="3.05"/><circle cx="253.5" cy="458.5" r="3.05"/><circle cx="257.5" cy="447.5" r="3.05"/><circle cx="260.5" cy="435.5" r="3.05"/><circle cx="264.5" cy="424.5" r="3.05"/><circle cx="267.5" cy="413.5" r="3.05"/><circle cx="271.5" cy="402.5" r="3.05"/><circle cx="275.5" cy="392.5" r="3.05"/><circle cx="278.5" cy="381.5" r="3.05"/><circle cx="282.5" cy="371.5" r="3.05"/><circle cx="285.5" cy="362.5" r="3.05"/><circle cx="289.5" cy="352.5" r="3.05"/><circle cx="292.5" cy="343.5" r="3.05"/><circle cx="296.5" cy="334.5" r="3.05"/><circle cx="299.5" cy="325.5" r="3.05"/><circle cx="303.5" cy="316.5" r="3.05"/><circle cx="307.5" cy="308.5" r="3.05"/><circle cx="310.5" cy="299.5" r="3.05"/><circle cx="314.5" cy="291.5" r="3.05"/><circle cx="317.5" cy="283.5" r="3.05"/><circle cx="321.5" cy="276.5" r="3.05"/><circle cx="324.5" cy="268.5" r="3.05"/><circle cx="328.5" cy="261.5" r="3.05"/><circle cx="331.5" cy="253.5" r="3.05"/><circle cx="335.5" cy="246.5" r="3.05"/><circle cx="339.5" cy="239.5" r="3.05"/><circle cx="342.5" cy="233.5" r="3.05"/><circle cx="346.5" cy="226.5" r="3.05"/><circle cx="349.5" cy="220.5" r="3.05"/><circle cx="353.5" cy="214.5" r="3.05"/><circle cx="356.5" cy="208.5" r="3.05"/><circle cx="360.5" cy="202.5" r="3.05"/><circle cx="363.5" cy="196.5" r="3.05"/><circle cx="367.5" cy="190.5" r="3.05"/><circle cx="371.5" cy="184.5" r="3.05"/><circle cx="374.5" cy="178.5" r="3.05"/><circle cx="378.5" cy="172.5" r="3.05"/><circle cx="381.5" cy="166.5" r="3.05"/><circle cx="385.5" cy="160.5" r="3.05"/><circle cx="388.5" cy="154.5" r="3.05"/><circle cx="392.5" cy="149.5" r="3.05"/><circle cx="395.5" cy="143.5" r="3.05"/><circle cx="399.5" cy="137.5" r="3.05"/><circle cx="403.5" cy="132.5" r="3.05"/>
</g>
<g fill="#db579e">
<circle cx="131.5" cy="391.5" r="3.05"/><circle cx="135.5" cy="474.5" r="3.05"/><circle cx="138.5" cy="535.5" r="3.05"/><circle cx="142.5" cy="581.5" r="3.05"/><circle cx="145.5" cy="614.5" r="3.05"/><circle cx="149.5" cy="636.5" r="3.05"/><circle cx="152.5" cy="651.5" r="3.05"/><circle cx="155.5" cy="657.5" r="3.05"/><circle cx="156.5" cy="660.5" r="3.05"/><circle cx="157.5" cy="662.5" r="3.05"/><circle cx="158.5" cy="664.5" r="3.05"/><circle cx="159.5" cy="666.5" r="3.05"/><circle cx="161.5" cy="667.5" r="3.05"/><circle cx="162.5" cy="668.5" r="3.05"/><circle cx="163.5" cy="669.5" r="3.05"/><circle cx="164.5" cy="669.5" r="3.05"/><circle cx="165.5" cy="670.5" r="3.05"/><circle cx="167.5" cy="670.5" r="3.05"/><circle cx="168.5" cy="670.5" r="3.05"/><circle cx="169.5" cy="669.5" r="3.05"/><circle cx="170.5" cy="669.5" r="3.05"/><circle cx="171.5" cy="668.5" r="3.05"/><circle cx="173.5" cy="667.5" r="3.05"/><circle cx="174.5" cy="666.5" r="3.05"/><circle cx="175.5" cy="664.5" r="3.05"/><circle cx="176.5" cy="663.5" r="3.05"/><circle cx="177.5" cy="661.5" r="3.05"/><circle cx="178.5" cy="659.5" r="3.05"/><circle cx="182.5" cy="652.5" r="3.05"/><circle cx="186.5" cy="643.5" r="3.05"/><circle cx="189.5" cy="633.5" r="3.05"/><circle cx="193.5" cy="622.5" r="3.05"/><circle cx="196.5" cy="611.5" r="3.05"/><circle cx="200.5" cy="601.5" r="3.05"/><circle cx="203.5" cy="591.5" r="3.05"/><circle cx="207.5" cy="581.5" r="3.05"/><circle cx="211.5" cy="573.5" r="3.05"/><circle cx="214.5" cy="564.5" r="3.05"/><circle cx="218.5" cy="556.5" r="3.05"/><circle cx="221.5" cy="547.5" r="3.05"/><circle cx="225.5" cy="539.5" r="3.05"/><circle cx="228.5" cy="530.5" r="3.05"/><circle cx="232.5" cy="521.5" r="3.05"/><circle cx="235.5" cy="511.5" r="3.05"/><circle cx="239.5" cy="501.5" r="3.05"/><circle cx="243.5" cy="491.5" r="3.05"/><circle cx="246.5" cy="480.5" r="3.05"/><circle cx="250.5" cy="469.5" r="3.05"/><circle cx="253.5" cy="458.5" r="3.05"/><circle cx="257.5" cy="447.5" r="3.05"/><circle cx="260.5" cy="435.5" r="3.05"/><circle cx="264.5" cy="424.5" r="3.05"/><circle cx="267.5" cy="413.5" r="3.05"/><circle cx="271.5" cy="402.5" r="3.05"/><circle cx="275.5" cy="392.5" r="3.05"/><circle cx="278.5" cy="381.5" r="3.05"/><circle cx="282.5" cy="371.5" r="3.05"/><circle cx="285.5" cy="362.5" r="3.05"/><circle cx="289.5" cy="352.5" r="3.05"/><circle cx="292.5" cy="343.5" r="3.05"/><circle cx="296.5" cy="334.5" r="3.05"/><circle cx="299.5" cy="325.5" r="3.05"/><circle cx="303.5" cy="316.5" r="3.05"/><circle cx="307.5" cy="308.5" r="3.05"/><circle cx="310.5" cy="299.5" r="3.05"/><circle cx="314.5" cy="291.5" r="3.05"/><circle cx="317.5" cy="283.5" r="3.05"/><circle cx="321.5" cy="276.5" r="3.05"/><circle cx="324.5" cy="268.5" r="3.05"/><circle cx="328.5" cy="261.5" r="3.05"/><circle cx="331.5" cy="253.5" r="3.05"/><circle cx="335.5" cy="246.5" r="3.05"/><circle cx="339.5" cy="239.5" r="3.05"/><circle cx="342.5" cy="233.5" r="3.05"/><circle cx="346.5" cy="226.5" r="3.05"/><circle cx="349.5" cy="220.5" r="3.05"/><circle cx="353.5" cy="214.5" r="3.05"/><circle cx="356.5" cy="208.5" r="3.05"/><circle cx="360.5" cy="202.5" r="3.05"/><circle cx="363.5" cy="196.5" r="3.05"/><circle cx="367.5" cy="190.5" r="3.05"/><circle cx="371.5" cy="184.5" r="3.05"/><circle cx="374.5" cy="178.5" r="3.05"/><circle cx="378.5" cy="172.5" r="3.05"/><circle cx="381.5" cy="166.5" r="3.05"/><circle cx="385.5" cy="160.5" r="3.05"/><circle cx="388.5" cy="154.5" r="3.05"/><circle cx="392.5" cy="149.5" r="3.05"/><circle cx="395.5" cy="143.5" r="3.05"/><circle cx="399.5" cy="137.5" r="3.05"/><circle cx="403.5" cy="132.5" r="3.05"/>
</g>
</g>
<g id="data2" class="m2">
<g fill="#db5f57">
<circle cx="891.5" cy="119.5" r="4.1"/><circle cx="903.5" cy="352.5" r="4.1"/><circle cx="910.5" cy="458.5" r="4.1"/><circle cx="914.5" cy="500.5" r="4.1"/><circle cx="918.5" cy="537.5" r="4.1"/><circle cx="921.5" cy="568.5" r="4.1"/><circle cx="925.5" cy="595.5" r="4.1"/><circle cx="929.5" cy="617.5" r="4.1"/><circle cx="932.5" cy="634.5" r="4.1"/><circle cx="936.5" cy="648.5" r="4.1"/><circle cx="940.5" cy="658.5" r="4.1"/><circle cx="944.5" cy="663.5" r="4.1"/><circle cx="947.5" cy="665.5" r="4.1"/><circle cx="951.5" cy="663.5" r="4.1"/><circle cx="955.5" cy="658.5" r="4.1"/><circle cx="959.5" cy="649.5" r="4.1"/><circle cx="962.5" cy="636.5" r="4.1"/><circle cx="966.5" cy="620.5" r="4.1"/><circle cx="970.5" cy="600.5" r="4.1"/><circle cx="974.5" cy="577.5" r="4.1"/><circle cx="977.5" cy="550.5" r="4.1"/><circle cx="981.5" cy="520.5" r="4.1"/><circle cx="985.5" cy="487.5" r="4.1"/><circle cx="996.5" cy="367.5" r="4.1"/><circle cx="1007.5" cy="221.5" r="4.1"/>
</g>
<g fill="#b9db57">
<circle cx="891.5" cy="119.5" r="4.1"/><circle cx="903.5" cy="352.5" r="4.1"/><circle cx="910.5" cy="458.5" r="4.1"/><circle cx="914.5" cy="500.5" r="4.1"/><circle cx="918.5" cy="537.5" r="4.1"/><circle cx="921.5" cy="568.5" r="4.1"/><circle cx="925.5" cy="595.5" r="4.1"/><circle cx="929.5" cy="617.5" r="4.1"/><circle cx="932.5" cy="634.5" r="4.1"/><circle cx="936.5" cy="648.5" r="4.1"/><circle cx="940.5" cy="658.5" r="4.1"/><circle cx="944.5" cy="663.5" r="4.1"/><circle cx="947.5" cy="665.5" r="4.1"/><circle cx="951.5" cy="663.5" r="4.1"/><circle cx="955.5" cy="658.5" r="4.1"/><circle cx="959.5" cy="649.5" r="4.1"/><circle cx="962.5" cy="636.5" r="4.1"/><circle cx="966.5" cy="620.5" r="4.1"/><circle cx="970.5" cy="600.5" r="4.1"/><circle cx="974.5" cy="577.5" r="4.1"/><circle cx="977.5" cy="550.5" r="4.1"/><circle cx="981.5" cy="520.5" r="4.1"/><circle cx="985.5" cy="487.5" r="4.1"/><circle cx="996.5" cy="367.5" r="4.1"/><circle cx="1007.5" cy="221.5" r="4.1"/>
</g>
<g fill="#69db57">
<circle cx="891.5" cy="119.5" r="4.1"/><circle cx="903.5" cy="352.5" r="4.1"/><circle cx="910.5" cy="458.5" r="4.1"/><circle cx="914.5" cy="500.5" r="4.1"/><circle cx="918.5" cy="537.5" r="4.1"/><circle cx="921.5" cy="568.5" r="4.1"/><circle cx="925.5" cy="595.5" r="4.1"/><circle cx="929.5" cy="617.5" r="4.1"/><circle cx="932.5" cy="634.5" r="4.1"/><circle cx="936.5" cy="648.5" r="4.1"/><circle cx="940.5" cy="658.5" r="4.1"/><circle cx="944.5" cy="663.5" r="4.1"/><circle cx="947.5" cy="665.5" r="4.1"/><circle cx="951.5" cy="663.5" r="4.1"/><circle cx="955.5" cy="658.5" r="4.1"/><circle cx="959.5" cy="649.5" r="4.1"/><circle cx="962.5" cy="636.5" r="4.1"/><circle cx="966.5" cy="620.5" r="4.1"/><circle cx="970.5" cy="600.5" r="4.1"/><circle cx="974.5" cy="577.5" r="4.1"/><circle cx="977.5" cy="550.5" r="4.1"/><circle cx="981.5" cy="520.5" r="4.1"/><circle cx="985.5" cy="487.5" r="4.1"/><circle cx="996.5" cy="367.5" r="4.1"/><circle cx="1007.5" cy="221.5" r="4.1"/>
</g>
<g fill="#57db94">
<circle cx="891.5" cy="119.5" r="4.1"/><circle cx="903.5" cy="352.5" r="4.1"/><circle cx="910.5" cy="458.5" r="4.1"/><circle cx="914.5" cy="500.5" r="4.1"/><circle cx="918.5" cy="537.5" r="4.1"/><circle cx="921.5" cy="568.5" r="4.1"/><circle cx="925.5" cy="595.5" r="4.1"/><circle cx="929.5" cy="617.5" r="4.1"/><circle cx="932.5" cy="634.5" r="4.1"/><circle cx="936.5" cy="648.5" r="4.1"/><circle cx="940.5" cy="658.5" r="4.1"/><circle cx="944.5" cy="663.5" r="4.1"/><circle cx="947.5" cy="665.5" r="4.1"/><circle cx="951.5" cy="663.5" r="4.1"/><circle cx="955.5" cy="658.5" r="4.1"/><circle cx="959.5" cy="649.5" r="4.1"/><circle cx="962.5" cy="636.5" r="4.1"/><circle cx="966.5" cy="620.5" r="4.1"/><circle cx="970.5" cy="600.5" r="4.1"/><circle cx="974.5" cy="577.5" r="4.1"/><circle cx="977.5" cy="550.5" r="4.1"/><circle cx="981.5" cy="520.5" r="4.1"/><circle cx="985.5" cy="487.5" r="4.1"/><circle cx="996.5" cy="367.5" r="4.1"/><circle cx="1007.5" cy="221.5" r="4.1"/>
</g>
<g fill="#c957db">
<circle cx="891.5" cy="119.5" r="4.1"/><circle cx="903.5" cy="352.5" r="4.1"/><circle cx="910.5" cy="458.5" r="4.1"/><circle cx="914.5" cy="500.5" r="4.1"/><circle cx="918.5" cy="537.5" r="4.1"/><circle cx="921.5" cy="568.5" r="4.1"/><circle cx="925.5" cy="595.5" r="4.1"/><circle cx="929.5" cy="617.5" r="4.1"/><circle cx="932.5" cy="634.5" r="4.1"/><circle cx="936.5" cy="648.5" r="4.1"/><circle cx="940.5" cy="658.5" r="4.1"/><circle cx="944.5" cy="663.5" r="4.1"/><circle cx="947.5" cy="665.5" r="4.1"/><circle cx="951.5" cy="663.5" r="4.1"/><circle cx="955.5" cy="658.5" r="4.1"/><circle cx="959.5" cy="649.5" r="4.1"/><circle cx="962.5" cy="636.5" r="4.1"/><circle cx="966.5" cy="620.5" r="4.1"/><circle cx="970.5" cy="600.5" r="4.1"/><circle cx="974.5" cy="577.5" r="4.1"/><circle cx="977.5" cy="550.5" r="4.1"/><circle cx="981.5" cy="520.5" r="4.1"/><circle cx="985.5" cy="487.5" r="4.1"/><circle cx="996.5" cy="367.5" r="4.1"/><circle cx="1007.5" cy="221.5" r="4.1"/>
</g>
<g fill="#db579e">
<circle cx="891.5" cy="119.5" r="4.1"/><circle cx="903.5" cy="352.5" r="4.1"/><circle cx="910.5" cy="458.5" r="4.1"/><circle cx="914.5" cy="500.5" r="4.1"/><circle cx="918.5" cy="537.5" r="4.1"/><circle cx="921.5" cy="568.5" r="4.1"/><circle cx="925.5" cy="595.5" r="4.1"/><circle cx="929.5" cy="617.5" r="4.1"/><circle cx="932.5" cy="634.5" r="4.1"/><circle cx="936.5" cy="648.5" r="4.1"/><circle cx="940.5" cy="658.5" r="4.1"/><circle cx="944.5" cy="663.5" r="4.1"/><circle cx="947.5" cy="665.5" r="4.1"/><circle cx="951.5" cy="663.5" r="4.1"/><circle cx="955.5" cy="658.5" r="4.1"/><circle cx="959.5" cy="649.5" r="4.1"/><circle cx="962.5" cy="636.5" r="4.1"/><circle cx="966.5" cy="620.5" r="4.1"/><circle cx="970.5" cy="600.5" r="4.1"/><circle cx="974.5" cy="577.5" r="4.1"/><circle cx="977.5" cy="550.5" r="4.1"/><circle cx="981.5" cy="520.5" r="4.1"/><circle cx="985.5" cy="487.5" r="4.1"/><circle cx="996.5" cy="367.5" r="4.1"/><circle cx="1007.5" cy="221.5" r="4.1"/>
</g>
</g>
<g id="data3" class="m2">
<g fill="#db5f57">
<circle cx="1449.5" cy="132.5" r="4.1"/><circle cx="1462.5" cy="265.5" r="4.1"/><circle cx="1474.5" cy="375.5" r="4.1"/><circle cx="1487.5" cy="463.5" r="4.1"/><circle cx="1499.5" cy="532.5" r="4.1"/><circle cx="1512.5" cy="580.5" r="4.1"/><circle cx="1524.5" cy="608.5" r="4.1"/><circle cx="1537.5" cy="618.5" r="4.1"/><circle cx="1549.5" cy="609.5" r="4.1"/><circle cx="1562.5" cy="581.5" r="4.1"/><circle cx="1574.5" cy="535.5" r="4.1"/><circle cx="1587.5" cy="471.5" r="4.1"/><circle cx="1599.5" cy="389.5" r="4.1"/><circle cx="1612.5" cy="291.5" r="4.1"/><circle cx="1624.5" cy="175.5" r="4.1"/>
</g>
<g fill="#b9db57">
<circle cx="1449.5" cy="132.5" r="4.1"/><circle cx="1462.5" cy="265.5" r="4.1"/><circle cx="1474.5" cy="375.5" r="4.1"/><circle cx="1487.5" cy="463.5" r="4.1"/><circle cx="1499.5" cy="532.5" r="4.1"/><circle cx="1512.5" cy="580.5" r="4.1"/><circle cx="1524.5" cy="608.5" r="4.1"/><circle cx="1537.5" cy="618.5" r="4.1"/><circle cx="1549.5" cy="609.5" r="4.1"/><circle cx="1562.5" cy="581.5" r="4.1"/><circle cx="1574.5" cy="535.5" r="4.1"/><circle cx="1587.5" cy="471.5" r="4.1"/><circle cx="1599.5" cy="389.5" r="4.1"/><circle cx="1612.5" cy="291.5" r="4.1"/><circle cx="1624.5" cy="175.5" r="4.1"/>
</g>
<g fill="#69db57">
<circle cx="1449.5" cy="132.5" r="4.1"/><circle cx="1462.5" cy="265.5" r="4.1"/><circle cx="1474.5" cy="375.5" r="4.1"/><circle cx="1487.5" cy="463.5" r="4.1"/><circle cx="1499.5" cy="532.5" r="4.1"/><circle cx="1512.5" cy="580.5" r="4.1"/><circle cx="1524.5" cy="608.5" r="4.1"/><circle cx="1537.5" cy="618.5" r="4.1"/><circle cx="1549.5" cy="609.5" r="4.1"/><circle cx="1562.5" cy="581.5" r="4.1"/><circle cx="1574.5" cy="535.5" r="4.1"/><circle cx="1587.5" cy="471.5" r="4.1"/><circle cx="1599.5" cy="389.5" r="4.1"/><circle cx="1612.5" cy="291.5" r="4.1"/><circle cx="1624.5" cy="175.5" r="4.1"/>
</g>
<g fill="#57db94">
<circle cx="1449.5" cy="132.5" r="4.1"/><circle cx="1462.5" cy="265.5" r="4.1"/><circle cx="1474.5" cy="375.5" r="4.1"/><circle cx="1487.5" cy="463.5" r="4.1"/><circle cx="1499.5" cy="532.5" r="4.1"/><circle cx="1512.5" cy="580.5" r="4.1"/><circle cx="1524.5" cy="608.5" r="4.1"/><circle cx="1537.5" cy="618.5" r="4.1"/><circle cx="1549.5" cy="609.5" r="4.1"/><circle cx="1562.5" cy="581.5" r="4.1"/><circle cx="1574.5" cy="535.5" r="4.1"/><circle cx="1587.5" cy="471.5" r="4.1"/><circle cx="1599.5" cy="389.5" r="4.1"/><circle cx="1612.5" cy="291.5" r="4.1"/><circle cx="1624.5" cy="175.5" r="4.1"/>
</g>
<g fill="#c957db">
<circle cx="1449.5" cy="132.5" r="4.1"/><circle cx="1462.5" cy="265.5" r="4.1"/><circle cx="1474.5" cy="375.5" r="4.1"/><circle cx="1487.5" cy="463.5" r="4.1"/><circle cx="1499.5" cy="532.5" r="4.1"/><circle cx="1512.5" cy="580.5" r="4.1"/><circle cx="1524.5" cy="608.5" r="4.1"/><circle cx="1537.5" cy="618.5" r="4.1"/><circle cx="1549.5" cy="609.5" r="4.1"/><circle cx="1562.5" cy="581.5" r="4.1"/><circle cx="1574.5" cy="535.5" r="4.1"/><circle cx="1587.5" cy="471.5" r="4.1"/><circle cx="1599.5" cy="389.5" r="4.1"/><circle cx="1612.5" cy="291.5" r="4.1"/><circle cx="1624.5" cy="175.5" r="4.1"/>
</g>
<g fill="#db579e">
<circle cx="1449.5" cy="132.5" r="4.1"/><circle cx="1462.5" cy="265.5" r="4.1"/><circle cx="1474.5" cy="375.5" r="4.1"/><circle cx="1487.5" cy="463.5" r="4.1"/><circle cx="1499.5" cy="532.5" r="4.1"/><circle cx="1512.5" cy="580.5" r="4.1"/><circle cx="1524.5" cy="608.5" r="4.1"/><circle cx="1537.5" cy="618.5" r="4.1"/><circle cx="1549.5" cy="609.5" r="4.1"/><circle cx="1562.5" cy="581.5" r="4.1"/><circle cx="1574.5" cy="535.5" r="4.1"/><circle cx="1587.5" cy="471.5" r="4.1"/><circle cx="1599.5" cy="389.5" r="4.1"/><circle cx="1612.5" cy="291.5" r="4.1"/><circle cx="1624.5" cy="175.5" r="4.1"/>
</g>
</g>
<rect id="legend-frame" x="428" y="374.2" width="155" height="292.7" rx="3.5" ry="3.5" fill="#fff" fill-opacity="0.8" stroke="#ccc" stroke-opacity="0.8" stroke-width="2.22"/>
<g id="legend" class="m1">
<circle cx="455.5" cy="392.5" r="3.05" fill="#db5f57"/>
<text class="lg" transform="translate(490.40 398.0) scale(1.0000 1)">Sn(tI2)</text>
<circle cx="455.5" cy="421.5" r="3.05" fill="#dbae57"/>
<text class="lg" transform="translate(490.40 426.0) scale(1.0000 1)">Sn</text>
<circle cx="455.5" cy="449.5" r="3.05" fill="#b9db57"/>
<text class="lg" transform="translate(490.40 454.0) scale(1.0000 1)">Bi</text>
<circle cx="455.5" cy="478.5" r="3.05" fill="#69db57"/>
<text class="lg" transform="translate(490.40 483.0) scale(1.0000 1)">Sm</text>
<circle cx="455.5" cy="507.5" r="3.05" fill="#57db94"/>
<text class="lg" transform="translate(490.40 512.0) scale(1.0000 1)">La</text>
<circle cx="455.5" cy="536.5" r="3.05" fill="#57d3db"/>
<text class="lg" transform="translate(490.40 541.0) scale(1.0000 1)">diamond</text>
<circle cx="455.5" cy="564.5" r="3.05" fill="#5784db"/>
<text class="lg" transform="translate(490.40 569.0) scale(1.0000 1)">sc</text>
<circle cx="455.5" cy="593.5" r="3.05" fill="#7957db"/>
<text class="lg" transform="translate(490.40 598.0) scale(1.0000 1)">fcc</text>
<circle cx="455.5" cy="622.5" r="3.05" fill="#c957db"/>
<text class="lg" transform="translate(490.40 626.0) scale(1.0000 1)">bcc</text>
<circle cx="455.5" cy="650.5" r="3.05" fill="#db579e"/>
<text class="lg" transform="translate(490.40 655.0) scale(1.0000 1)">hcp</text>
</g>
<rect class="sp" x="124.45" y="86.40" width="469.00" height="591.05"/>
<rect class="sp" x="713.45" y="86.40" width="469.05" height="591.05"/>
<rect class="sp" x="1302.45" y="86.40" width="469.00" height="591.05"/>
<text class="tk" x="197.0" y="717.9" text-anchor="middle">20</text>
<text class="tk" x="271.0" y="717.9" text-anchor="middle">30</text>
<text class="tk" x="345.0" y="717.9" text-anchor="middle">40</text>
<text class="tk" x="419.0" y="717.9" text-anchor="middle">50</text>
<text class="tk" x="494.0" y="717.9" text-anchor="middle">60</text>
<text class="tk" x="568.0" y="717.9" text-anchor="middle">70</text>
<text class="tk" x="99.8" y="108.0" text-anchor="end">−<tspan dx="-1.2">1</tspan></text>
<text class="tk" x="99.8" y="180.0" text-anchor="end">−<tspan dx="-1.2">2</tspan></text>
<text class="tk" x="99.8" y="252.0" text-anchor="end">−<tspan dx="-1.2">3</tspan></text>
<text class="tk" x="99.8" y="324.0" text-anchor="end">−<tspan dx="-1.2">4</tspan></text>
<text class="tk" x="99.8" y="397.0" text-anchor="end">−<tspan dx="-1.2">5</tspan></text>
<text class="tk" x="99.8" y="469.0" text-anchor="end">−<tspan dx="-1.2">6</tspan></text>
<text class="tk" x="99.8" y="541.0" text-anchor="end">−<tspan dx="-1.2">7</tspan></text>
<text class="tk" x="99.8" y="613.0" text-anchor="end">−<tspan dx="-1.2">8</tspan></text>
<text class="tk" x="99.8" y="686.0" text-anchor="end">−<tspan dx="-1.2">9</tspan></text>
<text class="lb" y="762.9"><tspan x="233.80" textLength="125.0" lengthAdjust="spacingAndGlyphs">Volume (</tspan><tspan class="m" x="359.30" style="font-size:28.4px">Å</tspan><tspan class="m" x="380.00" dy="-11.2" style="font-size:21px">3</tspan><tspan x="391.30" dy="11.2">/atom)</tspan></text>
<text class="tk" x="808.0" y="717.9" text-anchor="middle">10</text>
<text class="tk" x="925.0" y="717.9" text-anchor="middle">15</text>
<text class="tk" x="1042.0" y="717.9" text-anchor="middle">20</text>
<text class="tk" x="1159.0" y="717.9" text-anchor="middle">25</text>
<text class="tk" x="688.9" y="196.0" text-anchor="end">−<tspan dx="-1.2">8.5</tspan></text>
<text class="tk" x="688.9" y="314.0" text-anchor="end">−<tspan dx="-1.2">8.6</tspan></text>
<text class="tk" x="688.9" y="433.0" text-anchor="end">−<tspan dx="-1.2">8.7</tspan></text>
<text class="tk" x="688.9" y="551.0" text-anchor="end">−<tspan dx="-1.2">8.8</tspan></text>
<text class="tk" x="688.9" y="669.0" text-anchor="end">−<tspan dx="-1.2">8.9</tspan></text>
<text class="lb" y="762.9"><tspan x="824.12" textLength="125.0" lengthAdjust="spacingAndGlyphs">Volume (</tspan><tspan class="m" x="949.62" style="font-size:28.4px">Å</tspan><tspan class="m" x="970.33" dy="-11.2" style="font-size:21px">3</tspan><tspan x="981.62" dy="11.2">/atom)</tspan></text>
<text class="tk" x="1305.0" y="717.9" text-anchor="middle">13</text>
<text class="tk" x="1383.0" y="717.9" text-anchor="middle">14</text>
<text class="tk" x="1462.0" y="717.9" text-anchor="middle">15</text>
<text class="tk" x="1540.0" y="717.9" text-anchor="middle">16</text>
<text class="tk" x="1618.0" y="717.9" text-anchor="middle">17</text>
<text class="tk" x="1696.0" y="717.9" text-anchor="middle">18</text>
<text class="tk" x="1277.9" y="128.0" text-anchor="end">−<tspan dx="-1.2">8.82</tspan></text>
<text class="tk" x="1277.9" y="246.0" text-anchor="end">−<tspan dx="-1.2">8.84</tspan></text>
<text class="tk" x="1277.9" y="365.0" text-anchor="end">−<tspan dx="-1.2">8.86</tspan></text>
<text class="tk" x="1277.9" y="483.0" text-anchor="end">−<tspan dx="-1.2">8.88</tspan></text>
<text class="tk" x="1277.9" y="601.0" text-anchor="end">−<tspan dx="-1.2">8.90</tspan></text>
<text class="lb" y="762.9"><tspan x="1413.10" textLength="125.0" lengthAdjust="spacingAndGlyphs">Volume (</tspan><tspan class="m" x="1538.60" style="font-size:28.4px">Å</tspan><tspan class="m" x="1559.30" dy="-11.2" style="font-size:21px">3</tspan><tspan x="1570.60" dy="11.2">/atom)</tspan></text>
<text class="lb" transform="translate(49.5 382) rotate(-90)" text-anchor="middle">Energy (eV/atom)</text>
</svg></body></html>
